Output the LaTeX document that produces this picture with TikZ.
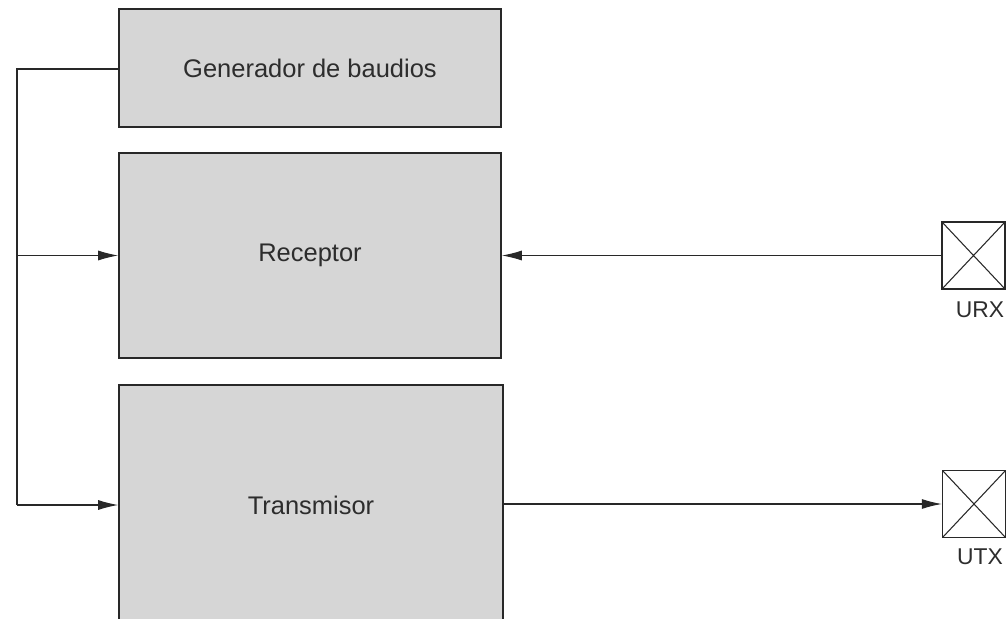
\documentclass[tikz,border=0pt]{standalone}
\usepackage{fontspec}
\setmainfont{Liberation Sans}
\usepackage{xcolor}
\usetikzlibrary{arrows.meta}
\definecolor{boxgray}{RGB}{214,214,214}
\definecolor{linegray}{RGB}{40,40,40}
\definecolor{graytext}{RGB}{45,45,45}

\begin{document}
\begin{tikzpicture}[
    bloque/.style={draw=linegray, line width=0.9pt, fill=boxgray, text=graytext, font=\fontsize{14.5}{17}\selectfont},
    pin/.style={draw=linegray, line width=0.8pt, fill=white, minimum width=1.26cm, minimum height=1.34cm, inner sep=0pt,
        path picture={\draw[linegray, line width=0.6pt] (path picture bounding box.north west) -- (path picture bounding box.south east)
            (path picture bounding box.south west) -- (path picture bounding box.north east);}},
    flecha/.style={linegray, line width=0.6pt, -{Latex[length=4mm,width=2mm]}},
    etiqueta/.style={text=graytext, font=\fontsize{13}{15}\selectfont}
]
    \clip (0,0) rectangle (20.16,-12.36);
    % Bloques
    \node[bloque, minimum width=7.64cm, minimum height=2.36cm] (gen) at (6.2,-1.36) {Generador de baudios};
    \node[bloque, minimum width=7.64cm, minimum height=4.1cm] (rx) at (6.2,-5.11) {Receptor};
    \node[bloque, minimum width=7.68cm, minimum height=4.8cm] (tx) at (6.22,-10.1) {Transmisor};
    % Pines
    \node[pin] (urx) at (19.47,-5.11) {};
    \node[pin] (utx) at (19.48,-10.08) {};
    \node[etiqueta] (urxl) at (19.6,-6.2) {URX};
    \node[etiqueta] (utxl) at (19.6,-11.14) {UTX};
    % Reloj hacia receptor y transmisor
    \coordinate (bus) at (0.34,-1.38);
    \coordinate (busbot) at (0.34,-10.1);
    \draw[linegray, line width=0.6pt] (gen.west |- bus) -- (bus) -- (busbot);
    \draw[flecha] (bus |- rx.west) -- (rx.west);
    \draw[flecha] (busbot) -- (tx.west);
    % Lineas serie
    \draw[flecha] (urx.west) -- (rx.east);
    \draw[flecha] (tx.east |- utx.west) -- (utx.west);
\end{tikzpicture}
\end{document}
